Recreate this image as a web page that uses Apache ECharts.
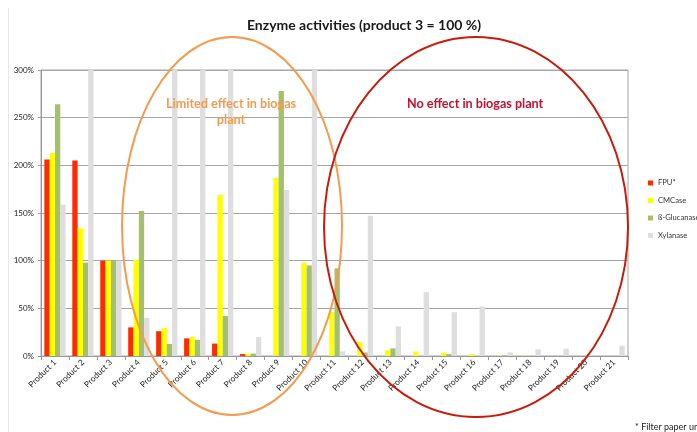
<!DOCTYPE html>
<html>
<head>
<meta charset="utf-8">
<script src="https://cdn.jsdelivr.net/npm/echarts@6/dist/echarts.min.js"></script>
<style>html,body{margin:0;padding:0;background:#fff}#c{width:697px;height:432px}</style>
</head>
<body>
<div id="c"></div>
<script>
var categories = ['Product 1','Product 2','Product 3','Product 4','Product 5','Product 6','Product 7','Product 8','Product 9','Product 10','Product 11','Product 12','Product 13','Product 14','Product 15','Product 16','Product 17','Product 18','Product 19','Product 20','Product 21'];
var fpu        = [206, 205, 100, 30, 26, 18.5, 13, 2, 0, 0, 0, 0, 0, 0, 0, 0, 0, 0, 0, 0, 0];
var cmcase     = [213, 134, 100, 101, 29.5, 20, 169, 2.5, 187, 98, 46, 14.7, 6, 4.7, 3.5, 2, 0.5, 0.3, 0, 0, 0];
var glucanase  = [264, 98, 100, 152, 12.6, 17, 42, 2.5, 278, 95, 92, 3.7, 8, 0, 2, 0, 0.5, 0, 0, 0, 0];
var xylanase   = [159, 300, 100, 40, 300, 300, 300, 20, 174, 300, 4.8, 147, 31, 67, 46, 52, 3.8, 7, 7.7, 0, 10.8];
var yTicks = [0, 50, 100, 150, 200, 250, 300];

var chart = echarts.init(document.getElementById('c'));
var font = 'Lato, "Open Sans", sans-serif';
function bar(name, data, color) {
  return {name: name, type: 'bar', data: data, barGap: '0%', barCategoryGap: '24%',
    itemStyle: {color: color}, clip: true};
}
chart.setOption({
  animation: false,
  title: {text: 'Enzyme activities (product 3 = 100 %)', left: 359, textAlign: 'center', top: 13,
    textStyle: {fontFamily: font, fontWeight: 'bold', fontSize: 14, color: '#1a1a1a'}},
  grid: {left: 41, right: 69, top: 70, bottom: 76, show: true, borderColor: '#a6a6a6', borderWidth: 1},
  legend: {orient: 'vertical', left: 643, top: 174, itemWidth: 5, itemHeight: 5, itemGap: 9.5,
    icon: 'rect', textStyle: {fontFamily: font, fontSize: 7.6, color: '#333'},
    data: ['FPU*', 'CMCase', 'ß-Glucanase', 'Xylanase']},
  xAxis: {type: 'category', data: categories,
    axisLine: {lineStyle: {color: '#999'}},
    axisTick: {show: true, length: 4, lineStyle: {color: '#999'}, interval: 0},
    axisLabel: {rotate: 45, interval: 0, fontFamily: font, fontSize: 8.3, color: '#222', margin: 5}},
  yAxis: {type: 'value', min: 0, max: 300, interval: 50,
    axisLine: {show: true, lineStyle: {color: '#999'}},
    axisTick: {show: true, length: 3, lineStyle: {color: '#999'}},
    splitLine: {lineStyle: {color: '#a6a6a6'}},
    axisLabel: {fontFamily: font, fontSize: 8, color: '#222', margin: 7,
      formatter: function (v) { return yTicks.indexOf(v) >= 0 ? v + '%' : ''; }}},
  series: [
    bar('FPU*', fpu, '#ff2a00'),
    bar('CMCase', cmcase, '#ffff00'),
    bar('ß-Glucanase', glucanase, '#a3c06b'),
    bar('Xylanase', xylanase, '#dedede')
  ],
  graphic: [
    {type: 'line', shape: {x1: 8.5, y1: 8, x2: 8.5, y2: 432}, style: {stroke: '#e6e6e6', lineWidth: 1}, silent: true},
    {type: 'ellipse', shape: {cx: 232, cy: 226, rx: 110, ry: 189}, style: {fill: null, stroke: '#f79a4e', lineWidth: 2}, z: 100, silent: true},
    {type: 'ellipse', shape: {cx: 476, cy: 227, rx: 152, ry: 190}, style: {fill: null, stroke: '#cc1a0a', lineWidth: 2}, z: 100, silent: true},
    {type: 'text', left: 166, top: 96, z: 101, style: {text: 'Limited effect in biogas\nplant', textAlign: 'center', fill: '#f79a4e', font: 'bold 12.6px ' + font, lineHeight: 16}},
    {type: 'text', left: 407, top: 97, z: 101, style: {text: 'No effect in biogas plant', fill: '#c8102e', font: 'bold 12.6px ' + font}},
    {type: 'text', left: 635, top: 423, z: 101, style: {text: '* Filter paper units', fill: '#222', font: '9px ' + font}}
  ]
});
</script>
</body>
</html>
